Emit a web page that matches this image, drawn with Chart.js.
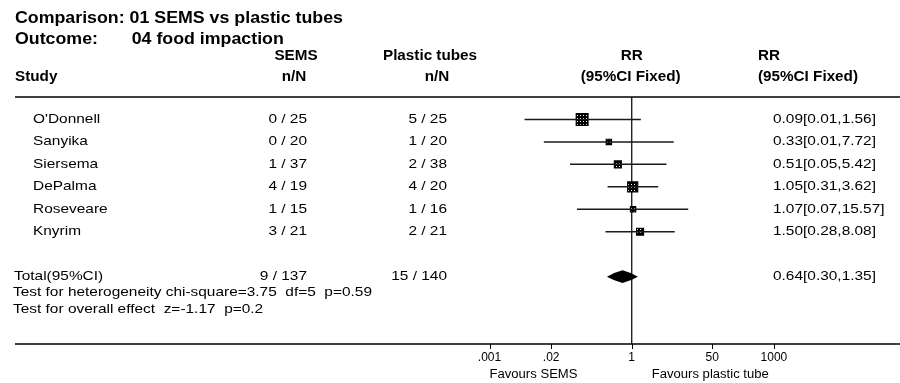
<!DOCTYPE html>
<html><head><meta charset="utf-8">
<script src="https://cdn.jsdelivr.net/npm/chart.js@4.4.1/dist/chart.umd.min.js"></script>
<style>html,body{margin:0;padding:0;background:#fff;}#wrap{width:900px;height:383px;position:relative;}</style>
</head><body><div id="wrap"><canvas id="c"></canvas></div>
<script>
// ---- data ----
const comparisonTitle = "Comparison: 01 SEMS vs plastic tubes";
const outcomeLabel = "Outcome:";
const outcomeText = "04 food impaction";
const studies = ["O'Donnell", "Sanyika", "Siersema", "DePalma", "Roseveare", "Knyrim"];
const semsEvents = [0, 0, 1, 4, 1, 3];
const semsTotals = [25, 20, 37, 19, 15, 21];
const plasticEvents = [5, 1, 2, 4, 1, 2];
const plasticTotals = [25, 20, 38, 20, 16, 21];
const rrValues = [0.09, 0.33, 0.51, 1.05, 1.07, 1.50];
const rrLower = [0.0055, 0.014, 0.05, 0.31, 0.07, 0.28];
const rrUpper = [1.56, 7.72, 5.42, 3.62, 15.57, 8.08];
const rrLabels = ["0.09[0.01,1.56]", "0.33[0.01,7.72]", "0.51[0.05,5.42]", "1.05[0.31,3.62]", "1.07[0.07,15.57]", "1.50[0.28,8.08]"];
const weights = [33.7, 6.7, 13.3, 26.3, 6.5, 13.5];
const totalLabel = "Total(95%CI)";
const totalRR = 0.64, totalLower = 0.30, totalUpper = 1.35;
const totalRRLabel = "0.64[0.30,1.35]";
const heterogeneityText = "Test for heterogeneity chi-square=3.75  df=5  p=0.59";
const overallText = "Test for overall effect  z=-1.17  p=0.2";
const tickValues = [0.001, 0.02, 1, 50, 1000];
const tickLabels = [".001", ".02", "1", "50", "1000"];
const favoursLeft = "Favours SEMS";
const favoursRight = "Favours plastic tube";

// ---- helpers ----
const FONT = '"Liberation Sans", Arial, Helvetica, sans-serif';
function measure(ctx, s, font){ ctx.save(); ctx.font = font; const w = ctx.measureText(s).width; ctx.restore(); return w; }
function txt(ctx, s, x, y, align, font, sx){
  ctx.save(); ctx.font = font; ctx.textBaseline = 'middle'; ctx.fillStyle = '#000'; ctx.textAlign = 'left';
  const w = ctx.measureText(s).width * sx;
  const x0 = align === 'left' ? x : (align === 'right' ? x - w : x - w / 2);
  ctx.translate(x0, y); ctx.scale(sx, 1); ctx.fillText(s, 0, 0); ctx.restore();
}
function hline(ctx, x1, x2, y, w){ ctx.save(); ctx.strokeStyle = '#000'; ctx.lineWidth = w; ctx.beginPath(); ctx.moveTo(x1, y); ctx.lineTo(x2, y); ctx.stroke(); ctx.restore(); }

const pc = document.createElement('canvas'); pc.width = 3; pc.height = 3;
const pg = pc.getContext('2d'); pg.fillStyle = '#000'; pg.fillRect(0, 0, 3, 3); pg.fillStyle = '#fff'; pg.fillRect(1, 1, 1, 1);
const boxPattern = pg.createPattern(pc, 'repeat');

const PX_PER_DEC = 47.4, X_ONE = 631.7, LEFT = 15, RIGHT = 900, TOP = 97, BOTTOM = 344;
const xMin = Math.pow(10, (LEFT - X_ONE) / PX_PER_DEC);
const xMax = Math.pow(10, (RIGHT - X_ONE) / PX_PER_DEC);

const datasets = [];
studies.forEach((s, i) => {
  datasets.push({ type: 'scatter', showLine: true, data: [{x: rrLower[i], y: i}, {x: rrUpper[i], y: i}],
    borderColor: '#1a1a1a', borderWidth: 1.5, pointRadius: 0, pointHoverRadius: 0 });
});
datasets.push({ type: 'scatter', data: rrValues.map((v, i) => ({x: v, y: i})),
  pointStyle: 'rect', pointRadius: weights.map(w => (3 + 0.24 * w) / Math.SQRT2 + 0.5),
  backgroundColor: boxPattern, borderColor: '#000', borderWidth: 1.2 });

const forestPlugin = {
  id: 'forest',
  beforeDatasetsDraw(chart){
    const ctx = chart.ctx, xs = chart.scales.x;
    const x1 = xs.getPixelForValue(1);
    ctx.save(); ctx.strokeStyle = '#222'; ctx.lineWidth = 1.4;
    ctx.beginPath(); ctx.moveTo(x1, chart.chartArea.top); ctx.lineTo(x1, chart.chartArea.bottom); ctx.stroke(); ctx.restore();
  },
  afterDatasetsDraw(chart){
    const ctx = chart.ctx, xs = chart.scales.x, ys = chart.scales.y, ca = chart.chartArea;
    // diamond
    const yT = ys.getPixelForValue(studies.length + 1);
    const xl = xs.getPixelForValue(totalLower), xc = xs.getPixelForValue(totalRR), xh = xs.getPixelForValue(totalUpper);
    ctx.save(); ctx.fillStyle = '#000'; ctx.beginPath();
    ctx.moveTo(xl, yT);
    ctx.quadraticCurveTo(xl + (xc - xl) * 0.45, yT - 4, xc, yT - 6.3);
    ctx.quadraticCurveTo(xc + (xh - xc) * 0.55, yT - 4, xh, yT);
    ctx.quadraticCurveTo(xc + (xh - xc) * 0.55, yT + 4, xc, yT + 6.3);
    ctx.quadraticCurveTo(xl + (xc - xl) * 0.45, yT + 4, xl, yT);
    ctx.closePath(); ctx.fill(); ctx.restore();

    // lines
    hline(ctx, ca.left, ca.right, ca.top, 1.5);
    hline(ctx, ca.left, ca.right, ca.bottom, 1.5);
    ctx.save(); ctx.strokeStyle = '#000'; ctx.lineWidth = 1;
    tickValues.forEach(v => { const x = Math.round(xs.getPixelForValue(v)) + 0.5; ctx.beginPath(); ctx.moveTo(x, ca.bottom); ctx.lineTo(x, ca.bottom + 5); ctx.stroke(); });
    ctx.restore();

    const titleFont = 'bold 16px ' + FONT;
    const headFont = 'bold 14px ' + FONT;
    const bodyFont = '13px ' + FONT;
    const tickFont = '12px ' + FONT;
    const sxTitle = 328 / measure(ctx, comparisonTitle, titleFont);
    const sxHead = 100 / measure(ctx, '(95%CI Fixed)', headFont);
    const sxBody = 359 / measure(ctx, heterogeneityText, bodyFont);
    const sxFav = 88 / measure(ctx, favoursLeft, tickFont);

    txt(ctx, comparisonTitle, 15, 19, 'left', titleFont, sxTitle);
    txt(ctx, outcomeLabel, 15, 39.5, 'left', titleFont, sxTitle);
    txt(ctx, outcomeText, 131.7, 39.5, 'left', titleFont, sxTitle);

    const h1 = 56, h2 = 77.5, xr = xs.getPixelForValue(1);
    txt(ctx, 'SEMS', 296, h1, 'center', headFont, sxHead);
    txt(ctx, 'Plastic tubes', 430, h1, 'center', headFont, sxHead);
    txt(ctx, 'RR', xr, h1, 'center', headFont, sxHead);
    txt(ctx, 'RR', 758, h1, 'left', headFont, sxHead);
    txt(ctx, 'Study', 15, h2, 'left', headFont, sxHead);
    txt(ctx, 'n/N', 294, h2, 'center', headFont, sxHead);
    txt(ctx, 'n/N', 437, h2, 'center', headFont, sxHead);
    txt(ctx, '(95%CI Fixed)', xr - 1, h2, 'center', headFont, sxHead);
    txt(ctx, '(95%CI Fixed)', 758, h2, 'left', headFont, sxHead);

    studies.forEach((s, i) => {
      const y = ys.getPixelForValue(i);
      txt(ctx, s, 33, y, 'left', bodyFont, sxBody);
      txt(ctx, semsEvents[i] + ' / ' + semsTotals[i], 307, y, 'right', bodyFont, sxBody);
      txt(ctx, plasticEvents[i] + ' / ' + plasticTotals[i], 447, y, 'right', bodyFont, sxBody);
      txt(ctx, rrLabels[i], 773, y, 'left', bodyFont, sxBody);
    });
    const sum = a => a.reduce((p, c) => p + c, 0);
    txt(ctx, totalLabel, 14, yT, 'left', bodyFont, sxBody);
    txt(ctx, sum(semsEvents) + ' / ' + sum(semsTotals), 307, yT, 'right', bodyFont, sxBody);
    txt(ctx, sum(plasticEvents) + ' / ' + sum(plasticTotals), 447, yT, 'right', bodyFont, sxBody);
    txt(ctx, totalRRLabel, 773, yT, 'left', bodyFont, sxBody);
    txt(ctx, heterogeneityText, 13, 292.5, 'left', bodyFont, sxBody);
    txt(ctx, overallText, 13, 309, 'left', bodyFont, sxBody);

    tickValues.forEach((v, i) => txt(ctx, tickLabels[i], xs.getPixelForValue(v), 357.5, 'center', tickFont, 1));
    txt(ctx, favoursLeft, xs.getPixelForValue(tickValues[0]), 375, 'left', tickFont, sxFav);
    txt(ctx, favoursRight, xr + 20, 375, 'left', tickFont, sxFav);
  }
};

new Chart(document.getElementById('c'), {
  data: { datasets },
  options: {
    responsive: true, maintainAspectRatio: false, animation: false,
    layout: { autoPadding: false, padding: { left: LEFT, right: 900 - RIGHT, top: TOP, bottom: 383 - BOTTOM } },
    plugins: { legend: { display: false }, tooltip: { enabled: false }, title: { display: false } },
    events: [],
    scales: {
      x: { type: 'logarithmic', min: xMin, max: xMax, display: false },
      y: { type: 'linear', min: -1, max: 10, reverse: true, display: false }
    }
  },
  plugins: [forestPlugin]
});
</script></body></html>
